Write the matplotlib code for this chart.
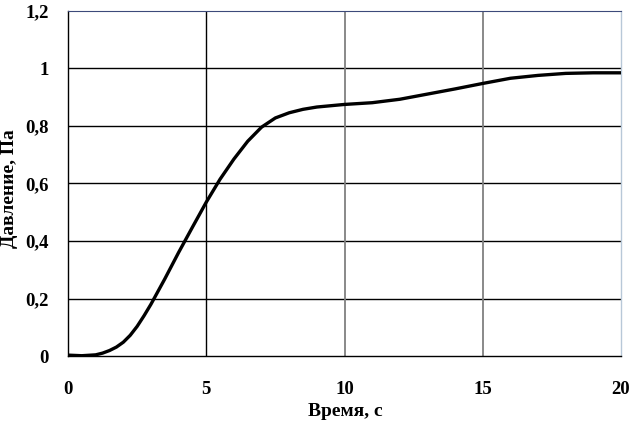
import matplotlib
matplotlib.use("Agg")
import matplotlib.pyplot as plt

time_s = [0, 0.5, 1, 1.25, 1.5, 1.75, 2, 2.25, 2.5, 2.75, 3, 3.5, 4, 4.5, 5, 5.5, 6, 6.5, 7, 7.5, 8, 8.5, 9, 10, 11, 12, 13, 14, 15, 16, 17, 18, 19, 20]
pressure = [0.003, 0.001, 0.004, 0.01, 0.019, 0.031, 0.048, 0.072, 0.103, 0.14, 0.18, 0.268, 0.36, 0.448, 0.535, 0.615, 0.685, 0.747, 0.796, 0.828, 0.846, 0.858, 0.866, 0.875, 0.881, 0.893, 0.911, 0.929, 0.948, 0.966, 0.976, 0.983, 0.985, 0.985]
x_ticks = [0, 5, 10, 15, 20]
x_tick_labels = ["0", "5", "10", "15", "20"]
y_ticks = [0, 0.2, 0.4, 0.6, 0.8, 1.0, 1.2]
y_tick_labels = ["0", "0,2", "0,4", "0,6", "0,8", "1", "1,2"]

plt.rcParams['font.family'] = ['Liberation Serif', 'DejaVu Serif']
fig = plt.figure(figsize=(6.31, 4.23), dpi=100)
ax = fig.add_axes([68/631, 1-356/423, (621-68)/631, (356-11)/423])

for y in y_ticks[1:-1]:
    ax.axhline(y, color='black', lw=1.0, zorder=1)
ax.axvline(5, color='black', lw=1.0, zorder=1)
for x in [10, 15]:
    ax.axvline(x, color='#808080', lw=1.3, zorder=1)

ax.plot(time_s, pressure, color='black', lw=2.4, solid_joinstyle='round', solid_capstyle='round', zorder=3)

ax.set_xlim(0, 20)
ax.set_ylim(0, 1.2)
ax.set_xticks(x_ticks)
ax.set_xticklabels(x_tick_labels, fontsize=13.5, fontweight='bold')
ax.set_yticks(y_ticks)
ax.set_yticklabels(y_tick_labels, fontsize=13.5, fontweight='bold')
ax.tick_params(axis='both', length=0)
ax.tick_params(axis='x', pad=18)
ax.tick_params(axis='y', pad=14)

ax.spines['left'].set_color('black')
ax.spines['bottom'].set_color('black')
ax.spines['left'].set_linewidth(1.0)
ax.spines['bottom'].set_linewidth(1.0)
ax.spines['top'].set_color('#3c4a7a')
ax.spines['top'].set_linewidth(0.8)
ax.spines['right'].set_color('#b8c8d8')
ax.spines['right'].set_linewidth(1.0)

fig.text(345/631, 1-411/423, "Время, с", ha='center', va='center', fontsize=14, fontweight='bold')
fig.text(10/631, 1-189/423, "Давление, Па", ha='center', va='center', rotation=90, fontsize=14, fontweight='bold')

fig.savefig("out.png", dpi=100)
